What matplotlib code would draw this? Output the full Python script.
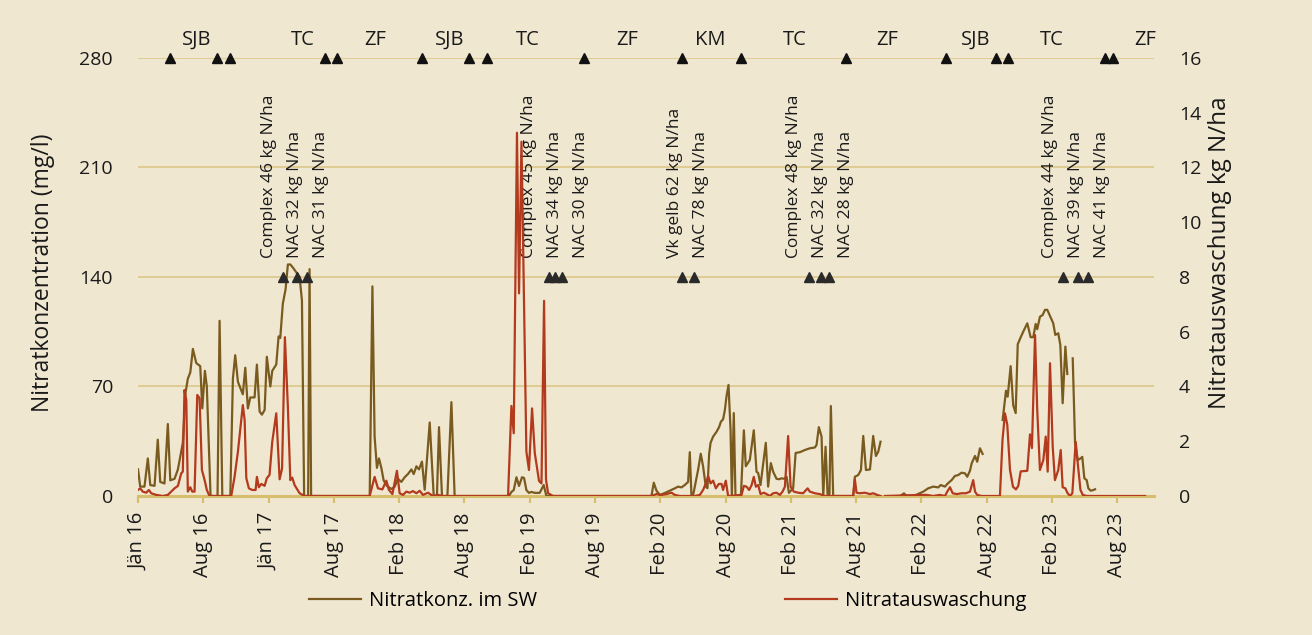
import numpy as np
import matplotlib.pyplot as plt
from matplotlib.lines import Line2D

plt.rcParams['font.family'] = ['Open Sans', 'DejaVu Sans']

nan = np.nan

# Nitratkonzentration im Sickerwasser (mg/l), x in Dezimaljahren
nitrat_x = [
    2016.000, 2016.017, 2016.050, 2016.076, 2016.095, 2016.128, 2016.153, 2016.172, 2016.205, 2016.231,
    2016.250, 2016.283, 2016.309, 2016.347, 2016.368, 2016.386, 2016.405, 2016.425, 2016.451, 2016.482,
    2016.498, 2016.518, 2016.533, 2016.562, 2016.616, 2016.632, 2016.653, 2016.715, 2016.735, 2016.753,
    2016.774, 2016.812, 2016.831, 2016.851, 2016.870, 2016.903, 2016.921, 2016.942, 2016.960, 2016.981,
    2016.998, 2017.025, 2017.040, 2017.071, 2017.089, 2017.102, 2017.122, 2017.143, 2017.161, 2017.180,
    2017.200, 2017.226, 2017.252, 2017.270, 2017.287, 2017.318, 2017.329, 2017.341, 2017.795, 2017.816,
    2017.833, 2017.851, 2017.867, 2017.885, 2017.903, 2017.929, 2017.963, 2017.988, 2018.014, 2018.040,
    2018.066, 2018.091, 2018.118, 2018.136, 2018.157, 2018.177, 2018.200, 2018.221, 2018.260, 2018.291,
    2018.316, 2018.332, 2018.355, 2018.397, 2018.428, 2018.453, 2018.874, 2018.893, 2018.911, 2018.932,
    2018.952, 2018.975, 2018.991, 2019.009, 2019.029, 2019.048, 2019.074, 2019.112, 2019.143, 2019.164,
    2019.978, 2019.996, 2020.017, 2020.043, 2020.081, 2020.120, 2020.159, 2020.184, 2020.211, 2020.236,
    2020.262, 2020.275, 2020.288, 2020.302, 2020.340, 2020.360, 2020.378, 2020.399, 2020.412, 2020.425,
    2020.436, 2020.456, 2020.482, 2020.502, 2020.516, 2020.533, 2020.547, 2020.560, 2020.575, 2020.591,
    2020.601, 2020.616, 2020.629, 2020.671, 2020.694, 2020.709, 2020.740, 2020.771, 2020.792, 2020.805,
    2020.823, 2020.864, 2020.882, 2020.903, 2020.921, 2020.947, 2020.967, 2020.986, 2021.006, 2021.025,
    2021.043, 2021.076, 2021.095, 2021.128, 2021.167, 2021.205, 2021.244, 2021.257, 2021.275, 2021.296,
    2021.309, 2021.327, 2021.343, 2021.357, 2021.368, 2021.386, 2021.541, 2021.554, 2021.580, 2021.601,
    2021.619, 2021.640, 2021.671, 2021.696, 2021.717, 2021.735, 2021.753, 2021.760,
    2021.916, 2021.934, 2021.955, 2022.006, 2022.045, 2022.084, 2022.122, 2022.161, 2022.200, 2022.219,
    2022.252, 2022.270, 2022.304, 2022.329, 2022.355, 2022.381, 2022.407, 2022.425, 2022.446, 2022.459,
    2022.485, 2022.502, 2022.523, 2022.544, 2022.550,
    2022.699, 2022.725, 2022.738, 2022.761, 2022.781, 2022.800, 2022.816, 2022.839, 2022.864, 2022.890,
    2022.916, 2022.936, 2022.955, 2022.967, 2022.988, 2023.009, 2023.027, 2023.045, 2023.066, 2023.091,
    2023.107, 2023.130, 2023.146, 2023.164, 2023.185, 2023.200, 2023.210,
    2023.242, 2023.260, 2023.281, 2023.302, 2023.316, 2023.332, 2023.350, 2023.363, 2023.381, 2023.402,
    2023.415,
]
nitrat_y = [
    17, 6, 6, 24, 7, 6.5, 36, 9, 8, 46,
    10, 11, 17, 34, 66, 75, 79, 94, 85, 83,
    56, 80, 70, 0, 0, 112, 0, 0, 75, 90,
    73, 65, 82, 56, 63, 63, 84, 54, 52, 55,
    89, 70, 80, 84, 102, 101, 123, 132, 148, 148,
    146, 143, 140, 125, 0, 0, 145, 0, 0, 134,
    38, 18, 24, 18, 10, 6.4, 4.5, 5.8, 11, 9,
    12, 14, 17, 14, 19, 17, 22, 4, 47, 0,
    0, 44, 0, 0, 60, 0, 0, 2.6, 3.8, 12,
    6.4, 12, 11.5, 3.8, 2, 2.6, 2, 2, 7, 0,
    0, 8.5, 3.4, 0.6, 1.9, 3.4, 4.9, 6, 5.5, 7,
    9, 28, 0, 1, 17, 27, 19, 6, 5, 27,
    34, 38, 41, 44, 47.5, 49, 55, 64, 71, 42,
    0, 53, 0, 0, 42, 19, 23, 42, 15.5, 14.7,
    7, 34, 6, 21, 15.5, 11, 10.7, 11.3, 11, 12.3,
    2, 5, 27.5, 28, 29.4, 30.5, 31, 32.6, 44, 38,
    0, 31.5, 0, 0, 57.5, 0, 0, 12.3, 13.4, 16.6,
    38.4, 16.6, 17, 38.4, 25.6, 28.3, 34.7, nan,
    0.6, 1.7, 0, 0, 1.3, 2.8, 4.9, 6, 5.5, 7,
    6, 7.7, 10.2, 12.8, 13.4, 14.9, 14.5, 12.3, 16.2, 20.9,
    25.6, 21.9, 30.5, 26.9, nan,
    48.6, 67.3, 63.5, 83, 58, 53, 97, 101.5, 106, 110.4,
    101.5, 101.5, 110, 106.6, 114.6, 115.7, 119, 119, 115, 110.4,
    103, 104, 96.5, 59.3, 95.5, 78, nan,
    88, 33.7, 23, 24, 25, 11.3, 10.2, 4.9, 3.4, 3.8,
    4.3,
]

# Nitratauswaschung (kg N/ha)
ausw_x = [
    2016.000, 2016.017, 2016.037, 2016.064, 2016.084, 2016.102, 2016.141, 2016.192, 2016.231, 2016.257,
    2016.283, 2016.309, 2016.335, 2016.347, 2016.360, 2016.374, 2016.386, 2016.405, 2016.420, 2016.438,
    2016.459, 2016.477, 2016.495, 2016.516, 2016.533, 2016.554, 2016.722, 2016.748, 2016.774, 2016.812,
    2016.826, 2016.839, 2016.859, 2016.885, 2016.911, 2016.921, 2016.936, 2016.955, 2016.981, 2016.998,
    2017.019, 2017.040, 2017.071, 2017.097, 2017.116, 2017.138, 2017.161, 2017.180, 2017.195, 2017.213,
    2017.252, 2017.291, 2017.795, 2017.833, 2017.859, 2017.893, 2017.924, 2017.944, 2017.971, 2018.006,
    2018.027, 2018.053, 2018.079, 2018.105, 2018.130, 2018.157, 2018.182, 2018.208, 2018.247, 2018.285,
    2018.324, 2018.363, 2018.867, 2018.893, 2018.911, 2018.936, 2018.952, 2018.971, 2019.009, 2019.029,
    2019.053, 2019.074, 2019.107, 2019.126, 2019.146, 2019.161, 2019.177, 2019.216, 2019.978, 2020.017,
    2020.056, 2020.095, 2020.133, 2020.159, 2020.198, 2020.314, 2020.353, 2020.378, 2020.405, 2020.417,
    2020.436, 2020.456, 2020.477, 2020.500, 2020.521, 2020.533, 2020.554, 2020.572, 2020.676, 2020.694,
    2020.715, 2020.735, 2020.754, 2020.771, 2020.787, 2020.805, 2020.823, 2020.849, 2020.870, 2020.895,
    2020.921, 2020.947, 2020.973, 2020.994, 2021.012, 2021.037, 2021.056, 2021.081, 2021.115, 2021.153,
    2021.188, 2021.205, 2021.244, 2021.283, 2021.322, 2021.541, 2021.554, 2021.567, 2021.593, 2021.632,
    2021.671, 2021.696, 2021.727, 2021.753, 2021.770,
    2021.787, 2022.058, 2022.110, 2022.161, 2022.213, 2022.252, 2022.270, 2022.291, 2022.312, 2022.343,
    2022.381, 2022.415, 2022.446, 2022.471, 2022.485, 2022.502, 2022.536, 2022.678, 2022.698, 2022.717,
    2022.735, 2022.756, 2022.779, 2022.802, 2022.820, 2022.839, 2022.890, 2022.911, 2022.926, 2022.950,
    2022.967, 2022.988, 2023.014, 2023.033, 2023.048, 2023.066, 2023.087, 2023.104, 2023.130, 2023.149,
    2023.164, 2023.185, 2023.200, 2023.221, 2023.239, 2023.265, 2023.281, 2023.302, 2023.320, 2023.350,
    2023.802,
]
ausw_y = [
    0.22, 0.28, 0.16, 0.12, 0.22, 0.1, 0.04, 0, 0.04, 0.16,
    0.28, 0.37, 0.83, 0.89, 3.87, 3.5, 0.16, 0.32, 0.16, 0.16,
    3.69, 3.57, 0.95, 0.58, 0.22, 0, 0, 0.7, 1.62, 3.32,
    2.78, 0.65, 0.28, 0.22, 0.22, 0.7, 0.32, 0.44, 0.37, 0.65,
    0.77, 1.98, 3.02, 0.61, 1.0, 5.8, 3.26, 0.58, 0.67, 0.4,
    0.1, 0, 0, 0.7, 0.28, 0.24, 0.56, 0.22, 0.07, 0.92,
    0.1, 0.04, 0.16, 0.12, 0.18, 0.1, 0.19, 0.04, 0.12, 0,
    0.04, 0, 0, 3.29, 2.29, 13.27, 7.4, 12.94, 1.62, 0.95,
    3.2, 1.57, 0.55, 0.46, 7.13, 0.6, 0.1, 0, 0, 0.07,
    0.04, 0.07, 0.12, 0.04, 0, 0, 0.04, 0.22, 0.52, 0.73,
    0.46, 0.56, 0.28, 0.44, 0.44, 0.22, 0.56, 0, 0.04, 0.37,
    0.34, 0.22, 0.4, 0.7, 0.34, 0.4, 0.07, 0.12, 0.07, 0,
    0.1, 0.12, 0.04, 0.16, 0.34, 2.19, 0.34, 0.16, 0.12, 0.1,
    0.28, 0.16, 0.1, 0.07, 0, 0, 0.61, 0.12, 0.1, 0.12,
    0.07, 0.1, 0.04, 0, nan,
    0, 0.04, 0.04, 0, 0.04, 0, 0.16, 0.32, 0.1, 0.07,
    0.1, 0.1, 0.16, 0.58, 0.16, 0.04, 0, 0, 2.05, 3.02,
    2.6, 0.95, 0.34, 0.24, 0.37, 0.9, 0.92, 2.25, 1.75, 5.88,
    3.14, 0.95, 1.31, 2.17, 0.89, 4.85, 1.8, 0.58, 0.95, 1.68,
    0.32, 0.28, 0.12, 0, 0.1, 1.98, 1.19, 0.22, 0.04, 0,
    0,
]

# Anbau / Ernte (Dreiecke oben) und Kulturen
saat_ernte = [2016.244, 2016.609, 2016.709, 2017.446, 2017.539, 2018.198, 2018.562, 2018.702,
              2019.453, 2020.213, 2020.671, 2021.484, 2022.260, 2022.647, 2022.740, 2023.492, 2023.554]
kulturen = ["SJB", "TC", "ZF", "SJB", "TC", "ZF", "KM", "TC", "ZF", "SJB", "TC", "ZF"]
kulturen_x = [2016.453, 2017.275, 2017.841, 2018.415, 2019.019, 2019.787, 2020.430, 2021.089,
              2021.802, 2022.492, 2023.081, 2023.802]

# Düngung
duengung_x = [
    [2017.120, 2017.229, 2017.306],
    [2019.182, 2019.229, 2019.283],
    [2020.213, 2020.306],
    [2021.198, 2021.291, 2021.353],
    [2023.167, 2023.283, 2023.357],
]
duengung_txt = [
    ["Complex 46 kg N/ha", "NAC 32 kg N/ha", "NAC 31 kg N/ha"],
    ["Complex 45 kg N/ha", "NAC 34 kg N/ha", "NAC 30 kg N/ha"],
    ["Vk gelb 62 kg N/ha", "NAC 78 kg N/ha"],
    ["Complex 48 kg N/ha", "NAC 32 kg N/ha", "NAC 28 kg N/ha"],
    ["Complex 44 kg N/ha", "NAC 39 kg N/ha", "NAC 41 kg N/ha"],
]

tick_labels = ["Jän 16", "Aug 16", "Jän 17", "Aug 17", "Feb 18", "Aug 18", "Feb 19", "Aug 19",
               "Feb 20", "Aug 20", "Feb 21", "Aug 21", "Feb 22", "Aug 22", "Feb 23", "Aug 23"]

bg = "#F0E7D1"
brown = "#7A5B1F"
red = "#B33A1D"
grid = "#D9C582"
ink = "#1a1a1a"

fig = plt.figure(figsize=(13.12, 6.35), dpi=100, facecolor=bg)
ax = fig.add_axes([0.1052, 0.2189, 0.7744, 0.6898])
ax.set_facecolor(bg)
ax2 = ax.twinx()

ax.plot(nitrat_x, nitrat_y, color=brown, lw=1.6, zorder=3)
ax2.plot(ausw_x, ausw_y, color=red, lw=1.6, zorder=3)

ax.set_ylim(0, 280)
ax2.set_ylim(0, 16)
ax.set_yticks([0, 70, 140, 210, 280])
ax2.set_yticks(range(0, 17, 2))
ax.set_xlim(2016.0, 2023.872)
ticks = 2016.0 + np.arange(len(tick_labels)) * 0.5058
ax.set_xticks(ticks)
ax.set_xticklabels(tick_labels, rotation=90)

for a in (ax, ax2):
    for s in a.spines.values():
        s.set_visible(False)
ax.spines["bottom"].set_visible(True)
ax.spines["bottom"].set_color("#D6BE6C")
ax.spines["bottom"].set_linewidth(2.2)
ax.spines["bottom"].set_zorder(1)

ax.grid(axis="y", color=grid, lw=1.1)
ax.set_axisbelow(True)
ax.tick_params(axis="y", length=0, labelsize=14, pad=18, colors=ink)
ax2.tick_params(axis="y", length=0, labelsize=14, pad=18, colors=ink)
ax.tick_params(axis="x", length=5, width=1.6, color="#D6BE6C", labelsize=14.5, pad=7,
               labelcolor=ink)

ax.set_ylabel("Nitratkonzentration (mg/l)", fontsize=16.5, color=ink)
ax.yaxis.set_label_coords(-0.082, 0.51)
ax2.set_ylabel("Nitratauswaschung kg N/ha", fontsize=17.5, color=ink, rotation=90)
ax2.yaxis.set_label_coords(1.053, 0.556)

# Saat / Ernte oben
ax.plot(saat_ernte, [280] * len(saat_ernte), ls="none", marker="^", ms=7,
        color="#111111", clip_on=False, zorder=5)
for lab, x in zip(kulturen, kulturen_x):
    ax.annotate(lab, (x, 280), xytext=(0, 6), textcoords="offset points",
                ha="center", va="bottom", fontsize=14.5, color=ink, annotation_clip=False)

# Düngung
for xs, txts in zip(duengung_x, duengung_txt):
    ax.plot(xs, [140] * len(xs), ls="none", marker="^", ms=7, color="#2a2a2a", zorder=5)
    xm = np.mean(xs)
    n = len(txts)
    for i, t in enumerate(txts):
        dx = (i - (n - 1) / 2) * 18.7
        ax.annotate(t, (xm, 140), xytext=(dx, 14), textcoords="offset points",
                    rotation=90, ha="center", va="bottom", fontsize=12.5, color=ink)

handles = [Line2D([], [], color=brown, lw=1.6), Line2D([], [], color=red, lw=1.6)]
fig.legend(handles, ["Nitratkonz. im SW", "Nitratauswaschung"], loc="center",
           bbox_to_anchor=(0.5088, 0.054), ncol=2, frameon=False, fontsize=14.5,
           columnspacing=12.3, handlelength=2.6, handletextpad=0.4)

fig.savefig("out.png", dpi=100, facecolor=bg)
